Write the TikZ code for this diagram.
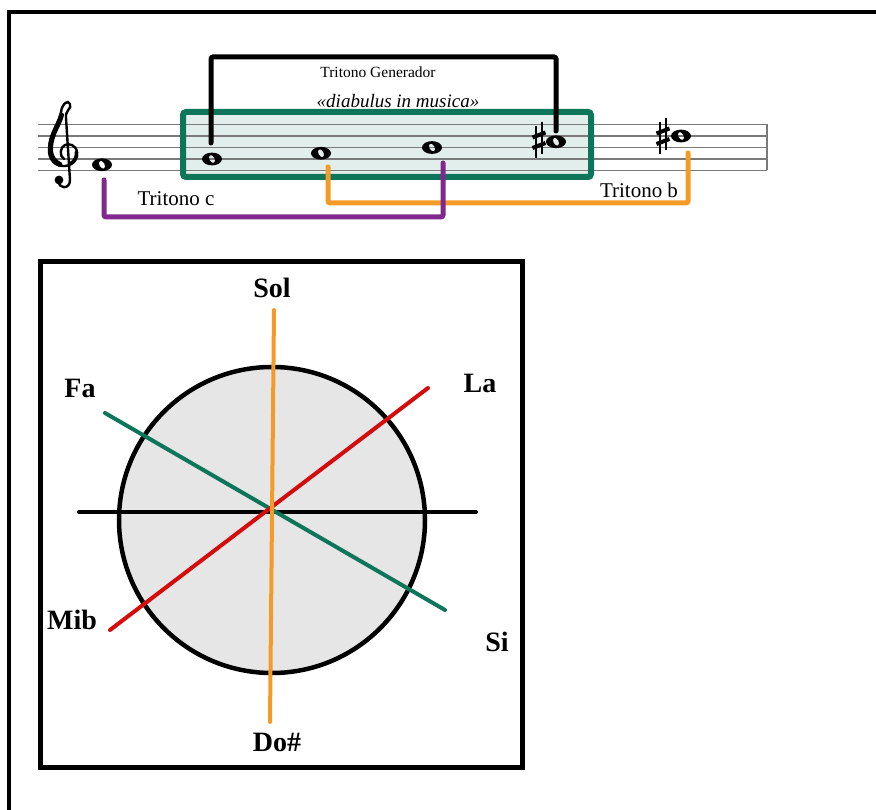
\documentclass[tikz,border=0pt]{standalone}
\usepackage{fontspec}
\setmainfont{Liberation Serif}
\definecolor{tgreen}{HTML}{0E7658}
\definecolor{tboxfill}{HTML}{E2EEEB}
\definecolor{tpurple}{HTML}{80288D}
\definecolor{torange}{HTML}{F39B26}
\definecolor{tred}{HTML}{D40C0C}
\definecolor{tstaff}{HTML}{7A7A7A}
\definecolor{tcircle}{HTML}{E6E6E6}
\tikzset{
  frameline/.style={line width=4.5pt},
  staffline/.style={tstaff, line width=1.4pt},
  bracket/.style={line width=5pt, line cap=round, line join=round, rounded corners=1.5pt},
  axisline/.style={line width=4pt, line cap=round},
  notelabel/.style={font=\fontsize{28}{30}\selectfont\bfseries, inner sep=0pt},
  tritlabel/.style={font=\fontsize{21}{24}\selectfont, inner sep=0pt},
  wnote/.pic={\fill[even odd rule] (0,0) ellipse [x radius=10, y radius=6.4] (0,0) [rotate=30] ellipse [x radius=2.6, y radius=4.2];},
  sharpsign/.pic={
    \draw[line width=1.6pt] (-2.8,-14) -- (-2.8,18);
    \draw[line width=1.6pt] (2.8,-18) -- (2.8,14);
    \draw[line width=4pt] (-6.5,-2.5) -- (6.5,-7.5);
    \draw[line width=4pt] (-6.5,8) -- (6.5,3);}
}
\begin{document}
\begin{tikzpicture}[x=1pt,y=-1pt]
\useasboundingbox (0,0) rectangle (876,810);
% outer frame (only top and left visible)
\draw[frameline] (9,812) -- (9,12) -- (880,12);

% green highlight box fill
\fill[tboxfill, rounded corners=3pt] (183,112) rectangle (591,177);
% staff
\foreach \yy in {124.5,136,147.5,159,170.5}
  \draw[staffline] (38,\yy) -- (767,\yy);
\draw[staffline] (767,124.5) -- (767,170.5);
% treble clef (drawn shape)
\coordinate (clef) at (63,150);
\draw[line width=2.4pt, line cap=round]
  (59,181) .. controls (58,189) and (70,190) .. (70,180)
  -- (66,118) .. controls (65,110) and (72,109) .. (70,104)
  .. controls (68,99) and (62,104) .. (61,112)
  .. controls (60,122) and (50,133) .. (49,148)
  .. controls (48,160) and (56,167) .. (65,166)
  .. controls (74,165) and (78,158) .. (77,152)
  .. controls (76,145) and (69,143) .. (65,145)
  .. controls (60,147) and (59,156) .. (64,159);
\draw[line width=5pt, line cap=round]
  (61.5,115) .. controls (59,125) and (51,134) .. (50.5,148)
  .. controls (50,156) and (54,162) .. (60,164.5);
\draw[line width=3.6pt, line cap=round]
  (70,164) .. controls (74,162) and (77,158) .. (76.5,152);
\fill (59,180) circle (4.4);
% green box border
\draw[tgreen, line width=6pt, rounded corners=3pt] (183,112) rectangle (591,177);

% notes
\coordinate (n1) at (102,164.75);
\coordinate (n2) at (212,159);
\coordinate (n3) at (321,153.25);
\coordinate (n4) at (432,147.5);
\coordinate (n5) at (556,141.75);
\coordinate (n6) at (681,136);
\foreach \n in {n1,n2,n3,n4,n5,n6} \pic at (\n) {wnote};
\pic at (539,140) {sharpsign};
\pic at (663,136) {sharpsign};

% brackets
\coordinate (g1) at (211,143);
\coordinate (g2) at (556,131);
\draw[bracket] (g1) -- (211,57) -- (556,57) -- (g2);
\node[inner sep=0pt, font=\fontsize{15.5}{17}\selectfont] (tg) at (378,72) {Tritono Generador};
\node[inner sep=0pt, font=\fontsize{19}{21}\selectfont\itshape] (dm) at (398,101) {«diabulus in musica»};

\coordinate (o1) at (328,167);
\coordinate (o2) at (688,153);
\draw[bracket, torange] (o1) -- (328,203) -- (688,203) -- (o2);
\coordinate (p1) at (104,180);
\coordinate (p2) at (443,163);
\draw[bracket, tpurple] (p1) -- (104,217) -- (443,217) -- (p2);
\node[tritlabel] (tc) at (176,199) {Tritono c};
\node[tritlabel] (tb) at (639,190) {Tritono b};

% lower panel
\draw[line width=5pt] (40,262) rectangle (522,767);
\node[circle, draw, fill=tcircle, line width=4.5pt, minimum size=306pt, inner sep=0pt] (circ) at (272,520) {};
\coordinate (hL) at (79,512);
\coordinate (hR) at (476,512);
\draw[axisline] (hL) -- (hR);
\coordinate (gF) at (105,413);
\coordinate (gS) at (445,610);
\draw[axisline, tgreen] (gF) -- (gS);
\coordinate (rM) at (110,630);
\coordinate (rL) at (428,388);
\draw[axisline, tred] (rM) -- (rL);
\coordinate (oS) at (274,310);
\coordinate (oD) at (270,722);
\draw[axisline, torange] (oS) -- (oD);

\node[notelabel] (sol) at (272,288) {Sol};
\node[notelabel] (fa) at (80,388) {Fa};
\node[notelabel] (la) at (480,383) {La};
\node[notelabel] (mib) at (72,620) {Mib};
\node[notelabel] (si) at (497,642) {Si};
\node[notelabel] (dos) at (277,742) {Do\#};
\end{tikzpicture}
\end{document}
